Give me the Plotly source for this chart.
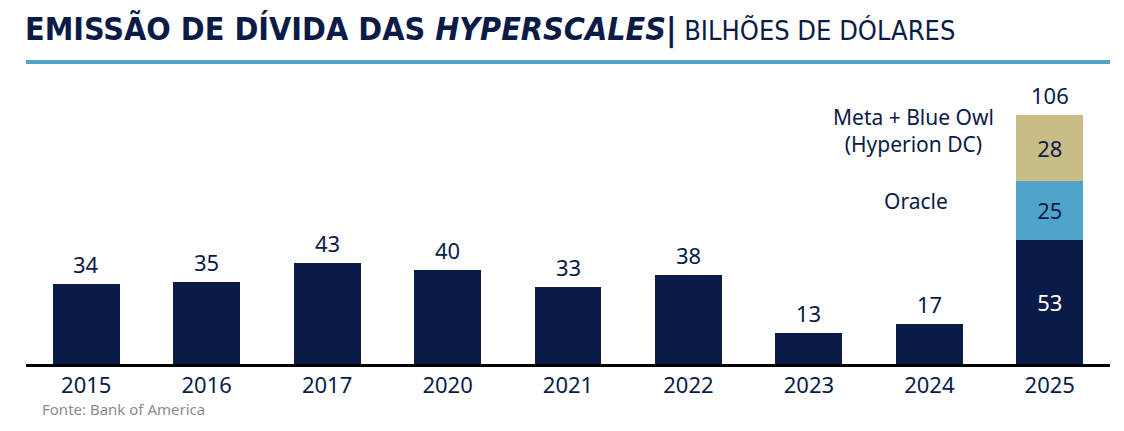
import plotly.graph_objects as go

years = ["2015", "2016", "2017", "2020", "2021", "2022", "2023", "2024", "2025"]
base = [34, 35, 43, 40, 33, 38, 13, 17, 53]
oracle = [0, 0, 0, 0, 0, 0, 0, 0, 25]
meta = [0, 0, 0, 0, 0, 0, 0, 0, 28]
totals = [b + o + m for b, o, m in zip(base, oracle, meta)]
pos = list(range(len(years)))

NAVY = "#0a1b47"
BLUE = "#4ea5c9"
TAN = "#c8bc87"
FONT = "Noto Sans, Roboto, sans-serif"

fig = go.Figure()
fig.add_trace(go.Bar(x=pos, y=base, marker_color=NAVY, marker_line_width=0,
                     text=["" if y != "2025" else str(v) for y, v in zip(years, base)],
                     textposition="inside", insidetextanchor="middle", textangle=0,
                     textfont=dict(color="white", size=22, family=FONT)))
fig.add_trace(go.Bar(x=pos, y=oracle, marker_color=BLUE, marker_line_width=0,
                     text=[str(v) if v else "" for v in oracle],
                     textposition="inside", insidetextanchor="middle", textangle=0,
                     textfont=dict(color=NAVY, size=22, family=FONT)))
fig.add_trace(go.Bar(x=pos, y=meta, marker_color=TAN, marker_line_width=0,
                     text=[str(v) if v else "" for v in meta],
                     textposition="inside", insidetextanchor="middle", textangle=0,
                     textfont=dict(color=NAVY, size=22, family=FONT)))

for p, t in zip(pos, totals):
    fig.add_annotation(x=p, y=t, text=str(t), showarrow=False, yanchor="bottom",
                       yshift=3, font=dict(color=NAVY, size=22, family=FONT))

fig.add_annotation(x=6.87, y=99.5, xref="x", yref="y", text="Meta + Blue Owl<br>(Hyperion DC)",
                   showarrow=False, xanchor="center", yanchor="middle",
                   font=dict(color=NAVY, size=21, family=FONT))
fig.add_annotation(x=6.89, y=69.5, xref="x", yref="y", text="Oracle",
                   showarrow=False, xanchor="center", yanchor="middle",
                   font=dict(color=NAVY, size=21, family=FONT))

# Title
fig.add_annotation(
    x=0.0, y=1.0, xref="paper", yref="paper", xanchor="left", yanchor="bottom",
    xshift=-3, yshift=29, showarrow=False,
    text="<b>EMISSÃO DE DÍVIDA DAS <i>HYPERSCALES</i>|</b>"
         "<span style='font-size:27px;font-weight:normal'> BILHÕES DE DÓLARES</span>",
    font=dict(color=NAVY, size=32, family="DejaVu Sans Condensed, Liberation Sans Narrow, Roboto Condensed, Roboto"))
fig.add_shape(type="line", xref="paper", yref="paper", x0=0, x1=1, y0=1.0634, y1=1.0634,
              line=dict(color=BLUE, width=4))

fig.add_annotation(x=0, y=0, xref="paper", yref="paper", xanchor="left", yanchor="top",
                   xshift=14, yshift=-33, showarrow=False, text="Fonte: Bank of America",
                   font=dict(color="#8c8c8c", size=15, family=FONT))

fig.update_layout(
    barmode="stack", bargap=0.444, showlegend=False,
    width=1124, height=431,
    margin=dict(l=18, r=22, t=72, b=75),
    paper_bgcolor="white", plot_bgcolor="white",
    xaxis=dict(range=[-0.5, len(years) - 0.5], tickmode="array", tickvals=pos, ticktext=years,
               showline=True, linecolor="black", linewidth=2.5, ticks="", zeroline=False,
               tickfont=dict(color=NAVY, size=22, family=FONT), showgrid=False),
    yaxis=dict(range=[0, 121], visible=False, showgrid=False, zeroline=False),
)
fig.write_html("out.html")
